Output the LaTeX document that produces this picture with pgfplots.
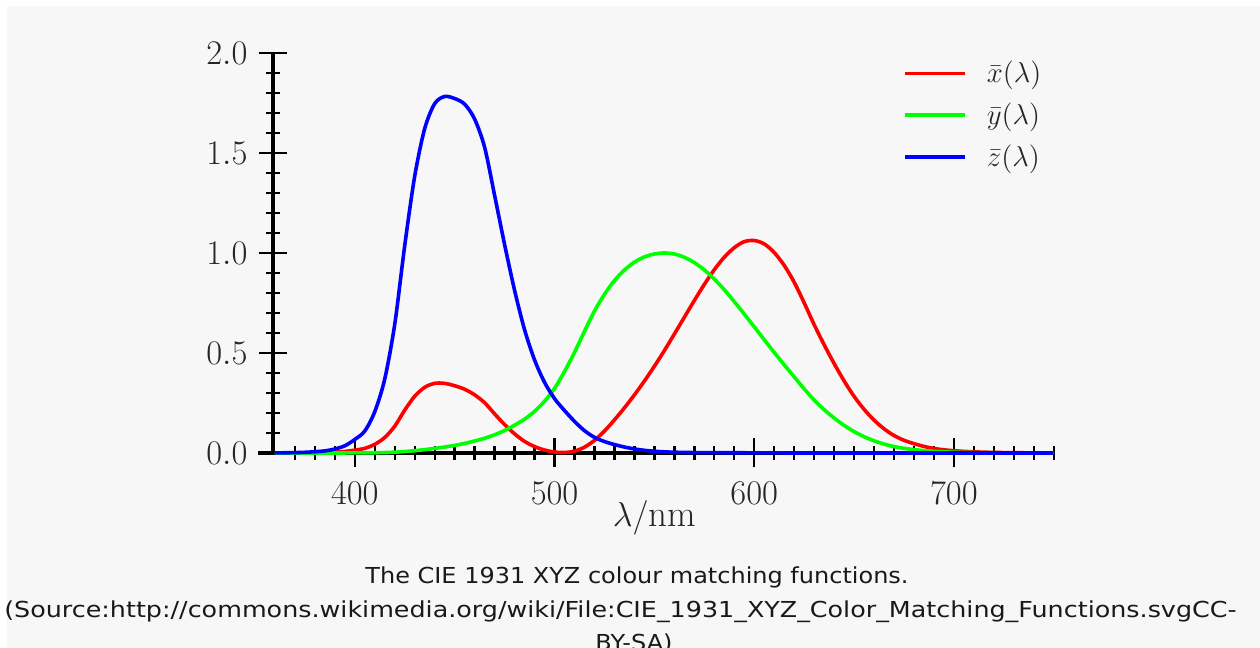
\documentclass[border=0pt]{standalone}
\usepackage{fontspec}
\usepackage{pgfplots}
\usepackage{pgfplotstable}
\pgfplotsset{compat=1.18}
\newfontfamily\capfont{DejaVu Sans}

\definecolor{bg}{HTML}{F7F7F7}
\definecolor{cred}{HTML}{FF0000}
\definecolor{cgreen}{HTML}{00FF00}
\definecolor{cblue}{HTML}{0000FF}

% CIE 1931 2 degree colour matching functions
\pgfplotstableread{
lam  xb        yb        zb
360  0.000130  0.000004  0.000606
365  0.000232  0.000007  0.001086
370  0.000415  0.000012  0.001946
375  0.000742  0.000022  0.003486
380  0.001368  0.000039  0.006450
385  0.002236  0.000064  0.010550
390  0.004243  0.000120  0.020050
395  0.007650  0.000217  0.036210
400  0.014310  0.000396  0.067850
405  0.023190  0.000640  0.110200
410  0.043510  0.001210  0.207400
415  0.077630  0.002180  0.371300
420  0.134380  0.004000  0.645600
425  0.214770  0.007300  1.039050
430  0.283900  0.011600  1.385600
435  0.328500  0.016840  1.622960
440  0.348280  0.023000  1.747060
445  0.348060  0.029800  1.782600
450  0.336200  0.038000  1.772110
455  0.318700  0.048000  1.744100
460  0.290800  0.060000  1.669200
465  0.251100  0.073900  1.528100
470  0.195360  0.090980  1.287640
475  0.142100  0.112600  1.041900
480  0.095640  0.139020  0.812950
485  0.057950  0.169300  0.616200
490  0.032010  0.208020  0.465180
495  0.014700  0.258600  0.353300
500  0.004900  0.323000  0.272000
505  0.002400  0.407300  0.212300
510  0.009300  0.503000  0.158200
515  0.029100  0.608200  0.111700
520  0.063270  0.710000  0.078250
525  0.109600  0.793200  0.057250
530  0.165500  0.862000  0.042160
535  0.225750  0.914850  0.029840
540  0.290400  0.954000  0.020300
545  0.359700  0.980300  0.013400
550  0.433450  0.994950  0.008750
555  0.512050  1.000000  0.005750
560  0.594500  0.995000  0.003900
565  0.678400  0.978600  0.002750
570  0.762100  0.952000  0.002100
575  0.842500  0.915400  0.001800
580  0.916300  0.870000  0.001650
585  0.978600  0.816300  0.001400
590  1.026300  0.757000  0.001100
595  1.056700  0.694900  0.001000
600  1.062200  0.631000  0.000800
605  1.045600  0.566800  0.000600
610  1.002600  0.503000  0.000340
615  0.938400  0.441200  0.000240
620  0.854450  0.381000  0.000190
625  0.751400  0.321000  0.000100
630  0.642400  0.265000  0.000050
635  0.541900  0.217000  0.000030
640  0.447900  0.175000  0.000020
645  0.360800  0.138200  0.000010
650  0.283500  0.107000  0.000000
655  0.218700  0.081600  0.000000
660  0.164900  0.061000  0.000000
665  0.121200  0.044580  0.000000
670  0.087400  0.032000  0.000000
675  0.063600  0.023200  0.000000
680  0.046770  0.017000  0.000000
685  0.032900  0.011920  0.000000
690  0.022700  0.008210  0.000000
695  0.015840  0.005723  0.000000
700  0.011359  0.004102  0.000000
705  0.008111  0.002929  0.000000
710  0.005790  0.002091  0.000000
715  0.004109  0.001484  0.000000
720  0.002899  0.001047  0.000000
725  0.002049  0.000740  0.000000
730  0.001440  0.000520  0.000000
735  0.001000  0.000361  0.000000
740  0.000690  0.000249  0.000000
745  0.000476  0.000172  0.000000
750  0.000332  0.000120  0.000000
}\cmf

\begin{document}
\begin{tikzpicture}
\useasboundingbox (0,0) rectangle (630pt,324pt);
\fill[white] (0,0) rectangle (630pt,324pt);
\fill[bg] (3.5pt,0) rectangle (630pt,321pt);

\begin{axis}[
    at={(136.5pt,97.5pt)}, anchor=south west,
    scale only axis,
    width=390.35pt, height=200pt,
    xmin=359, xmax=750,
    ymin=0, ymax=2,
    clip=false,
    axis x line=bottom, axis y line=left,
    axis line style={-, line width=1.6pt, black},
    xtick={400,500,600,700},
    minor xtick={370,380,...,750},
    ytick={0,0.5,1,1.5,2},
    minor ytick={0.1,0.2,...,1.95},
    tick align=center,
    major tick length=14.5pt,
    minor tick length=7pt,
    every tick/.style={black, line width=1.2pt},
    ticklabel style={font=\fontsize{16}{19}\selectfont, text=black!85},
    xticklabel style={yshift=-4pt},
    yticklabel style={xshift=-2pt,
        /pgf/number format/.cd, fixed, fixed zerofill, precision=1},
    scaled ticks=false,
    legend cell align=left,
    legend image code/.code={\draw[#1] (0pt,0pt) -- (30pt,0pt);},
    legend style={at={(axis cs:674.5,1.96)}, anchor=north west,
        draw=none, fill=none, inner sep=0pt,
        nodes={inner sep=0pt},
        column sep=10pt, row sep=8.5pt,
        font=\fontsize{15.5}{18}\selectfont, text=black!85},
]
\addplot[cred, line width=1.8pt, smooth] table[x=lam, y=xb] {\cmf};
\addlegendentry{$\bar{x}(\lambda)$}
\addplot[cgreen, line width=1.8pt, smooth] table[x=lam, y=yb] {\cmf};
\addlegendentry{$\bar{y}(\lambda)$}
\addplot[cblue, line width=1.8pt, smooth] table[x=lam, y=zb] {\cmf};
\addlegendentry{$\bar{z}(\lambda)$}
\draw[line width=1.6pt] (axis cs:359,0) -- ([xshift=-7.5pt]axis cs:359,0);
\node[anchor=base, font=\fontsize{18.5}{22}\selectfont, text=black!85]
    at (axis cs:550,0) [yshift=-37pt] {$\lambda/\mathrm{nm}$};
\end{axis}

\begin{scope}[font=\capfont\fontsize{11}{14}\selectfont, text=black!90]
\node[anchor=base, inner sep=0pt] at (318.5pt,32.25pt)
    {\scalebox{1.09}[1]{The CIE 1931 XYZ colour matching functions.}};
\node[anchor=base east, inner sep=0pt] at (618.5pt,15pt)
    {\scalebox{1.154}[1]{(Source:http://commons.wikimedia.org/wiki/File:CIE\_1931\_XYZ\_Color\_Matching\_Functions.svgCC-}};
\node[anchor=base, inner sep=0pt] at (317pt,-1.5pt)
    {\scalebox{1.09}[1]{BY-SA)}};
\end{scope}
\end{tikzpicture}
\end{document}
